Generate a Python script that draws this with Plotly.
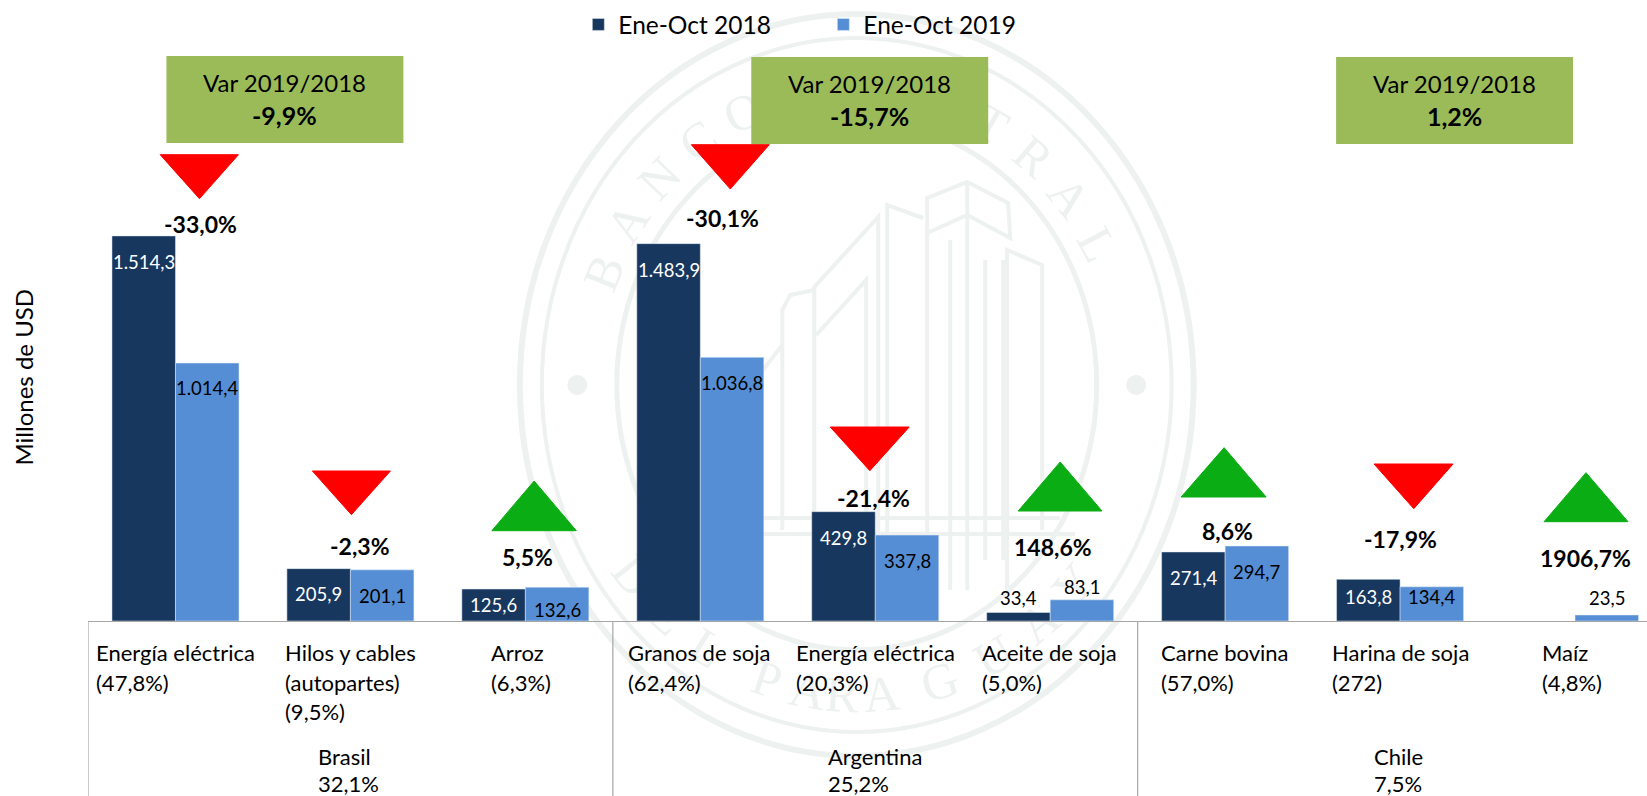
import math
import plotly.graph_objects as go

# ---------- data ----------
categories = ["Energía eléctrica\n(47,8%)", "Hilos y cables\n(autopartes)\n(9,5%)", "Arroz\n(6,3%)",
              "Granos de soja\n(62,4%)", "Energía eléctrica\n(20,3%)", "Aceite de soja\n(5,0%)",
              "Carne bovina\n(57,0%)", "Harina de soja\n(272)", "Maíz\n(4,8%)"]
countries = ["Brasil\n32,1%", "Argentina\n25,2%", "Chile\n7,5%"]
values_2018 = [1514.3, 205.9, 125.6, 1483.9, 429.8, 33.4, 271.4, 163.8, None]
values_2019 = [1014.4, 201.1, 132.6, 1036.8, 337.8, 83.1, 294.7, 134.4, 23.5]
labels_2018 = ["1.514,3", "205,9", "125,6", "1.483,9", "429,8", "33,4", "271,4", "163,8", ""]
labels_2019 = ["1.014,4", "201,1", "132,6", "1.036,8", "337,8", "83,1", "294,7", "134,4", "23,5"]
variations = ["-33,0%", "-2,3%", "5,5%", "-30,1%", "-21,4%", "148,6%", "8,6%", "-17,9%", "1906,7%"]
country_var = ["-9,9%", "-15,7%", "1,2%"]

# ---------- layout constants (pixels in the 1647x796 frame) ----------
W, H = 1647, 796
L, BASE = 87.5, 621
STEP = 175.0
DARK, LIGHT = "#17375e", "#558ed5"
GREY = "#a6a6a6"
WM = "#edf1ef"
FONT = "Lato"
BAR_W = 0.363
UNIT = 0.2543  # px per USD million

def px(x):
    return (x - L) / (W - L)
def py(y):
    return (BASE - y) / BASE

shift_2018 = [26, 25, 15.6, 26, 26, -14.5, 25.7, 18, 0]
shift_2019 = [25, 25.7, 22.7, 26, 26, -13, 25.7, 10.5, -17.3]
color_2018 = ["white"] * 5 + ["black"] + ["white"] * 3
color_2019 = ["black"] * 9
cat_x = [96, 284.7, 491, 628.6, 796, 982, 1161, 1332, 1542]
cat_line_y = [652, 682, 711]
country_x = [318, 828.6, 1374]
country_y = [756, 783.5]
var_x = [199.7, 359.8, 527, 722, 873, 1053, 1227.8, 1400, 1585]
var_y = [224, 545.7, 557, 218, 497.7, 547, 531, 539.3, 557.7]
tri = [(159.7, 238, 154.7, 198.7, 199), (312, 390, 471, 514.7, 351), (491.5, 576, 530.7, 481, 533.8),
       (691, 769, 144.7, 189, 730), (830, 909, 427, 470.7, 869.6), (1018, 1101.8, 511, 462, 1060),
       (1181, 1266, 497, 447.7, 1224), (1374, 1453, 464, 508.7, 1413.7), (1544, 1628, 521.7, 472.7, 1586)]
boxes = [(166, 403, 56, 143), (751, 988, 57, 144), (1336, 1573, 57, 144)]

fig = go.Figure()
xs = list(range(len(categories)))
fig.add_bar(x=xs, y=values_2018, name="Ene-Oct 2018", marker_color=DARK, width=BAR_W, offset=-BAR_W, hoverinfo="skip")
fig.add_bar(x=xs, y=values_2019, name="Ene-Oct 2019", marker_color=LIGHT, width=BAR_W, offset=0, hoverinfo="skip")

shapes, ann = [], []

# ---------- watermark (seal) ----------
CX, CY = 856.5, 385
def ring(rx, ry, w):
    shapes.append(dict(type="circle", xref="paper", yref="paper", layer="below",
                       x0=px(CX - rx), x1=px(CX + rx), y0=py(CY + ry), y1=py(CY - ry),
                       line=dict(color=WM, width=w), fillcolor="rgba(0,0,0,0)"))
ring(337, 371, 6)
ring(315, 347, 4)
ring(240, 265, 5)
for dx in (-279.5, 279.5):
    shapes.append(dict(type="circle", xref="paper", yref="paper", layer="below",
                       x0=px(CX + dx - 10), x1=px(CX + dx + 10), y0=py(CY + 10), y1=py(CY - 10),
                       line=dict(width=0), fillcolor=WM))

def seal_letter(ch, cx, cy, rot):
    shapes.append(dict(type="rect", xref="paper", yref="paper", layer="below",
                       x0=px(cx - 30), x1=px(cx + 30), y0=py(cy + 30), y1=py(cy - 30),
                       line=dict(width=0), fillcolor="rgba(0,0,0,0)",
                       label=dict(text=ch, textangle=rot, textposition="middle center",
                                  font=dict(family="Liberation Serif", size=50, color=WM))))

RX, RY = 278, 305
top_word = "BANCO CENTRAL"
for i, ch in enumerate(top_word):
    if ch == " ":
        continue
    th = -68 + i * 130 / (len(top_word) - 1)
    t = math.radians(th)
    seal_letter(ch, CX + RX * math.sin(t), CY - RY * math.cos(t), th)
bottom_letters = list("DELPARAGUAY")
bottom_angles = [-52, -42, -32, -18.5, -10, -3, 5, 17, 29, 40, 50]
for ch, ph in zip(bottom_letters, bottom_angles):
    t = math.radians(ph)
    seal_letter(ch, CX + RX * math.sin(t), CY + RY * math.cos(t), -ph)

def poly(pts, w=4):
    d = "M" + " L".join(f"{px(a)},{py(b)}" for a, b in pts)
    shapes.append(dict(type="path", xref="paper", yref="paper", layer="below", path=d,
                       line=dict(color=WM, width=w)))
building = [
    [(927, 590), (927, 198), (967, 182), (1008, 203), (1010, 238), (967, 215), (927, 233)],
    [(967, 182), (967, 590)],
    [(887, 590), (887, 205), (923, 218)],
    [(878, 590), (878, 217), (814, 287), (814, 590)],
    [(866, 590), (866, 280), (816, 335)],
    [(1007, 590), (1007, 250), (1042, 265), (1042, 530)],
    [(985, 260), (985, 560)],
    [(1003, 260), (1003, 560)],
    [(782, 530), (782, 310), (790, 295), (814, 290)],
    [(755, 530), (755, 380), (782, 345)],
    [(740, 518), (1060, 518)],
    [(730, 534), (1075, 534)],
    [(950, 240), (950, 590)],
]
for b in building:
    poly(b)

# ---------- axis dividers ----------
for xv in (-0.5, 2.5, 5.5):
    shapes.append(dict(type="line", xref="x", yref="paper", x0=xv, x1=xv, y0=0, y1=py(H),
                       line=dict(color=GREY, width=1.2)))

# ---------- variation triangles and boxes ----------
for (x0, x1, ybase, yapex, xapex), v in zip(tri, variations):
    up = not v.startswith("-")
    col = "#0aae14" if up else "#ff0000"
    d = f"M{px(x0)},{py(ybase)} L{px(x1)},{py(ybase)} L{px(xapex)},{py(yapex)} Z"
    shapes.append(dict(type="path", xref="paper", yref="paper", path=d, fillcolor=col,
                       line=dict(color=col, width=1), layer="above"))
for x0, x1, y0, y1 in boxes:
    shapes.append(dict(type="rect", xref="paper", yref="paper", x0=px(x0), x1=px(x1), y0=py(y1), y1=py(y0),
                       fillcolor="#9bbb59", line=dict(width=0), layer="above"))

def text(t, x, y, size=22, color="black", bold=False, xanchor="left", angle=0):
    xx = x - 2.5 if xanchor == "left" else x
    ann.append(dict(text=f"<b>{t}</b>" if bold else t, xref="paper", yref="paper", x=px(xx), y=py(y),
                    xanchor=xanchor, yanchor="middle", showarrow=False, textangle=angle,
                    font=dict(family=FONT, size=size, color=color)))

# bar value labels, anchored on the data
for i in xs:
    if labels_2018[i]:
        ann.append(dict(text=labels_2018[i], xref="x", yref="y", x=i - BAR_W / 2, y=values_2018[i], yshift=-shift_2018[i],
                        xanchor="center", yanchor="middle", showarrow=False,
                        font=dict(family=FONT, size=18.5, color=color_2018[i])))
    ann.append(dict(text=labels_2019[i], xref="x", yref="y", x=i + BAR_W / 2, y=values_2019[i], yshift=-shift_2019[i],
                    xanchor="center", yanchor="middle", showarrow=False,
                    font=dict(family=FONT, size=18.5, color=color_2019[i])))

for lab, x in zip(categories, cat_x):
    for line, y in zip(lab.split("\n"), cat_line_y):
        text(line, x, y)
for lab, x in zip(countries, country_x):
    for line, y in zip(lab.split("\n"), country_y):
        text(line, x, y)
for v, x, y in zip(variations, var_x, var_y):
    text(v, x, y, size=23, bold=True, xanchor="center")
for (x0, x1, y0, y1), v in zip(boxes, country_var):
    c = (x0 + x1) / 2
    text("Var 2019/2018", c, y0 + 26.5, size=24, xanchor="center")
    text(v, c, y0 + 59, size=25, bold=True, xanchor="center")
text("Millones de USD", 22, 377, size=24, xanchor="center", angle=-90)

fig.update_layout(
    width=W, height=H, margin=dict(l=L, r=0, t=0, b=H - BASE),
    paper_bgcolor="white", plot_bgcolor="rgba(0,0,0,0)", barmode="overlay",
    font=dict(family=FONT, color="black"),
    shapes=shapes, annotations=ann, hovermode=False,
    legend=dict(orientation="h", x=px(578), xanchor="left", y=py(2), yanchor="top",
                bgcolor="rgba(0,0,0,0)", font=dict(family=FONT, size=24.5),
                entrywidth=200, entrywidthmode="pixels", traceorder="normal"),
    xaxis=dict(range=[-0.5, -0.5 + (W - L) / STEP], showticklabels=False, ticks="", showgrid=False,
               zeroline=False, showline=True, linecolor=GREY, linewidth=1.2, fixedrange=True),
    yaxis=dict(range=[0, BASE / UNIT], visible=False, showgrid=False, zeroline=False, fixedrange=True),
)
fig.write_html("out.html", config={"displayModeBar": False},
               post_script="document.body.style.margin='0';document.body.style.overflow='hidden';")
